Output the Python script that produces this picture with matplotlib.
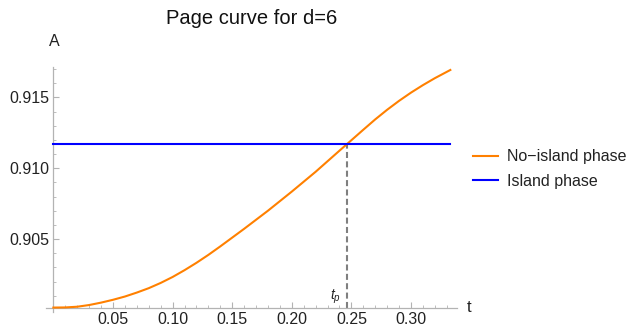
import matplotlib
matplotlib.use("Agg")
import matplotlib.pyplot as plt
from matplotlib.ticker import FixedLocator

plt.rcParams['font.family'] = ['Liberation Sans', 'DejaVu Sans']
plt.rcParams['mathtext.fontset'] = 'custom'
plt.rcParams['mathtext.it'] = 'Liberation Sans:italic'
plt.rcParams['mathtext.rm'] = 'Liberation Sans'

# ---- data ----
t_values = [0.0, 0.01, 0.02, 0.03, 0.04, 0.05, 0.06, 0.07, 0.08, 0.09, 0.10, 0.11,
            0.12, 0.13, 0.14, 0.16, 0.18, 0.20, 0.22, 0.24, 0.26, 0.27, 0.28,
            0.29, 0.30, 0.31, 0.32, 0.333]
no_island = [0.90016, 0.90017, 0.90022, 0.90034, 0.90051, 0.90071, 0.90094,
             0.90122, 0.90153, 0.90190, 0.90232, 0.90280, 0.90332, 0.90388,
             0.90448, 0.90572, 0.90700, 0.90835, 0.90975, 0.91124, 0.91272,
             0.91345, 0.91413, 0.91476, 0.91534, 0.91587, 0.91636, 0.91694]
island_value = 0.91170
t_page = 0.2463
x_ticks = [0.05, 0.10, 0.15, 0.20, 0.25, 0.30]
x_tick_labels = ["0.05", "0.10", "0.15", "0.20", "0.25", "0.30"]
x_minor = [0.01, 0.02, 0.03, 0.04, 0.06, 0.07, 0.08, 0.09, 0.11, 0.12, 0.13, 0.14,
           0.16, 0.17, 0.18, 0.19, 0.21, 0.22, 0.23, 0.24, 0.26, 0.27, 0.28, 0.29,
           0.31, 0.32, 0.33]
y_ticks = [0.905, 0.910, 0.915]
y_tick_labels = ["0.905", "0.910", "0.915"]
y_minor = [0.901, 0.902, 0.903, 0.904, 0.906, 0.907, 0.908, 0.909,
           0.911, 0.912, 0.913, 0.914, 0.916, 0.917]
labels = ["No\u2212island phase", "Island phase"]
title = "Page curve for d=6"

fig = plt.figure(figsize=(6.3, 3.35), dpi=100)
ax = fig.add_axes([0.0725, 0.0696, 0.7254 - 0.0725, 0.8 - 0.0696])

orange = "#FF8000"
blue = "#0000FF"
axis_col = "#b3b3b3"

l1, = ax.plot(t_values, no_island, color=orange, lw=1.5, solid_joinstyle='round', zorder=3)
l2, = ax.plot([0.0, t_values[-1]], [island_value, island_value], color=blue, lw=1.5, zorder=3)

y_base = no_island[0]
dl, = ax.plot([t_page, t_page], [y_base, island_value], color="#7f7f7f", lw=1.5, zorder=2)
dl.set_dashes((2.9, 1.6))

ax.set_xlim(-0.00646, 0.3386)
ax.set_ylim(0.89987, 0.91715)

for s in ["top", "right"]:
    ax.spines[s].set_visible(False)
ax.spines["left"].set_position(("data", 0.0))
ax.spines["bottom"].set_position(("data", y_base))
for s in ["left", "bottom"]:
    ax.spines[s].set_color(axis_col)
    ax.spines[s].set_linewidth(0.9)

ax.set_xticks(x_ticks)
ax.set_xticklabels(x_tick_labels)
ax.xaxis.set_minor_locator(FixedLocator(x_minor))
ax.set_yticks(y_ticks)
ax.set_yticklabels(y_tick_labels)
ax.yaxis.set_minor_locator(FixedLocator(y_minor))
ax.tick_params(which='major', direction='in', length=4, width=0.8, color=axis_col,
               labelsize=11.5, labelcolor="#222222")
ax.tick_params(which='minor', direction='in', length=2.2, width=0.6, color=axis_col)
ax.tick_params(axis='x', which='major', pad=3.5)
ax.tick_params(axis='y', which='major', pad=3)

fig.text(251.5 / 630, 1 - 19 / 335, title, ha='center', va='center', fontsize=14.5, color="#111111")
fig.text(54.3 / 630, 1 - 41 / 335, "A", ha='center', va='center', fontsize=11.5, color="#222222")
fig.text(469 / 630, 1 - 307.5 / 335, "t", ha='center', va='center', fontsize=12, color="#222222")
fig.text(335 / 630, 1 - 297 / 335, r"$t_p$", ha='center', va='center', fontsize=10, color="#222222")

fig.legend([l1, l2], labels, loc='center left', bbox_to_anchor=(472.7 / 630, 1 - 169 / 335),
           frameon=False, borderpad=0, borderaxespad=0, handlelength=1.56,
           handletextpad=0.58, labelspacing=0.6, fontsize=11.5, labelcolor="#222222")

fig.savefig("out.png", dpi=100)
